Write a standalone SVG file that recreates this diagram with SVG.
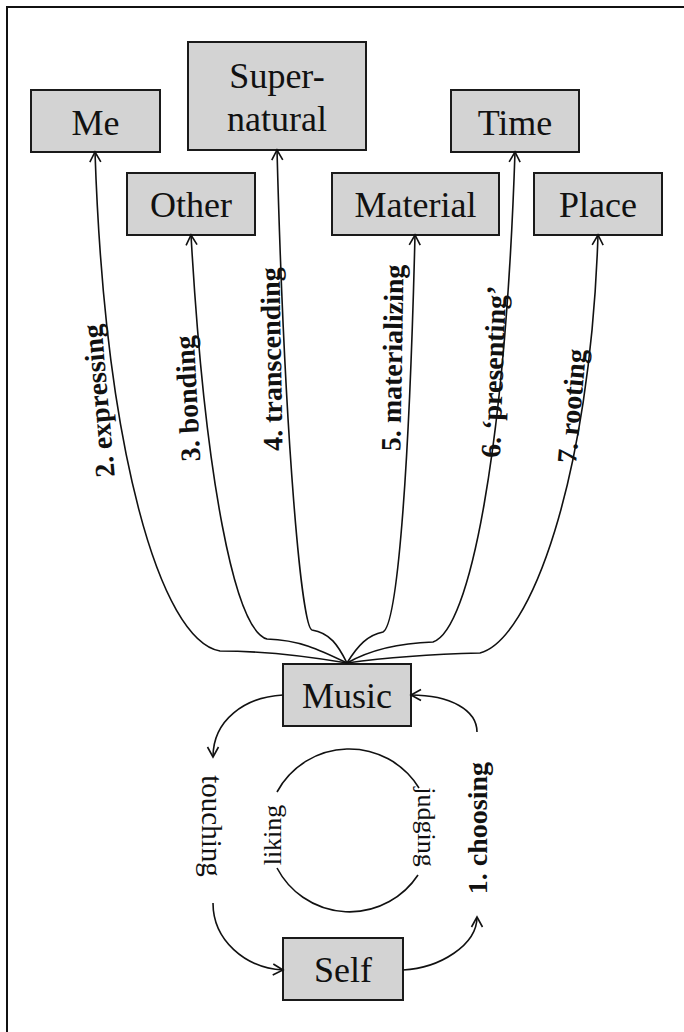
<svg xmlns="http://www.w3.org/2000/svg" width="684" height="1032" viewBox="0 0 684 1032">
  <style>
    .box rect { fill: #d3d3d3; stroke: #1a1a1a; stroke-width: 2; }
    .box text { font-family: "Liberation Serif", "Times New Roman", serif; font-size: 36px; fill: #111; text-anchor: middle; }
    .conn path { fill: none; stroke: #111; stroke-width: 1.6; }
    .lbl { font-family: "Liberation Serif", "Times New Roman", serif; fill: #111; text-anchor: middle; }
    .fan { font-size: 28px; font-weight: bold; }
  </style>
  <defs>
    <marker id="arr" markerUnits="userSpaceOnUse" markerWidth="16" markerHeight="16" viewBox="-13 -8 16 16" refX="0" refY="0" orient="auto">
      <path d="M -10,-5.5 L 0,0 L -10,5.5" fill="none" stroke="#111" stroke-width="1.6"/>
    </marker>
  </defs>
  <rect width="684" height="1032" fill="#ffffff"/>
  <path d="M 7,1032 L 7,7 L 684,7" fill="none" stroke="#111" stroke-width="2"/>

  <g id="node-me" class="box"><rect x="31" y="90" width="129" height="62"/><text x="95.5" y="135">Me</text></g>
  <g id="node-supernatural" class="box"><rect x="188" y="42" width="178" height="108"/><text x="277" y="88">Super-</text><text x="277" y="131">natural</text></g>
  <g id="node-time" class="box"><rect x="451" y="90" width="128" height="62"/><text x="515" y="135">Time</text></g>
  <g id="node-other" class="box"><rect x="127" y="173" width="128" height="62"/><text x="191" y="217">Other</text></g>
  <g id="node-material" class="box"><rect x="332" y="173" width="167" height="62"/><text x="415.5" y="217">Material</text></g>
  <g id="node-place" class="box"><rect x="534" y="173" width="128" height="62"/><text x="598" y="217">Place</text></g>
  <g id="node-music" class="box"><rect x="283" y="664" width="128" height="62"/><text x="347" y="708">Music</text></g>
  <g id="node-self" class="box"><rect x="283" y="938" width="120" height="62"/><text x="343" y="982">Self</text></g>

  <g id="connectors" class="conn">
    <path marker-end="url(#arr)" d="M 347,663 C 300,655 260,651 220,651 C 160,640 105,450 95,152"/>
    <path marker-end="url(#arr)" d="M 347,663 C 320,650 300,640 267,639 C 235,630 205,480 191,235"/>
    <path marker-end="url(#arr)" d="M 347,663 C 338,645 330,633 312,630 C 302,628 285,450 277,150"/>
    <path marker-end="url(#arr)" d="M 347,663 C 358,645 368,635 383,632 C 397,625 409,480 415,235"/>
    <path marker-end="url(#arr)" d="M 347,663 C 370,650 400,643 433,642 C 470,630 505,450 515,152"/>
    <path marker-end="url(#arr)" d="M 347,663 C 390,657 440,654 480,653 C 530,640 590,480 598,235"/>
    <path marker-end="url(#arr)" d="M 283,695 C 245,697 213,720 213,757"/>
    <path marker-end="url(#arr)" d="M 213,903 C 213,940 245,968 283,970"/>
    <path marker-end="url(#arr)" d="M 403,970 C 440,968 477,945 477,917"/>
    <path marker-end="url(#arr)" d="M 477,732 C 477,710 450,695 411,695"/>
    <path d="M 277,792 A 82,82 0 0 1 419,788"/>
    <path d="M 277,868 A 82,82 0 0 0 418,875"/>
  </g>

  <g id="labels">
    <text class="lbl fan" transform="translate(108,400) rotate(-95)">2. expressing</text>
    <text class="lbl fan" transform="translate(197,398) rotate(-93)">3. bonding</text>
    <text class="lbl fan" transform="translate(281,359) rotate(-91)">4. transcending</text>
    <text class="lbl fan" transform="translate(402,358) rotate(-89)">5. materializing</text>
    <text class="lbl fan" transform="translate(503,372) rotate(-88)">6. ‘presenting’</text>
    <text class="lbl fan" transform="translate(581,407) rotate(-85)">7. rooting</text>
    <text class="lbl" font-size="29" transform="translate(202,826) rotate(90)">touching</text>
    <text class="lbl" font-size="26" transform="translate(281,835) rotate(-90)">liking</text>
    <text class="lbl" font-size="26" transform="translate(418,827) rotate(90)">judging</text>
    <text class="lbl" font-size="28" font-weight="bold" transform="translate(487,828) rotate(-90)">1. choosing</text>
  </g>
</svg>
